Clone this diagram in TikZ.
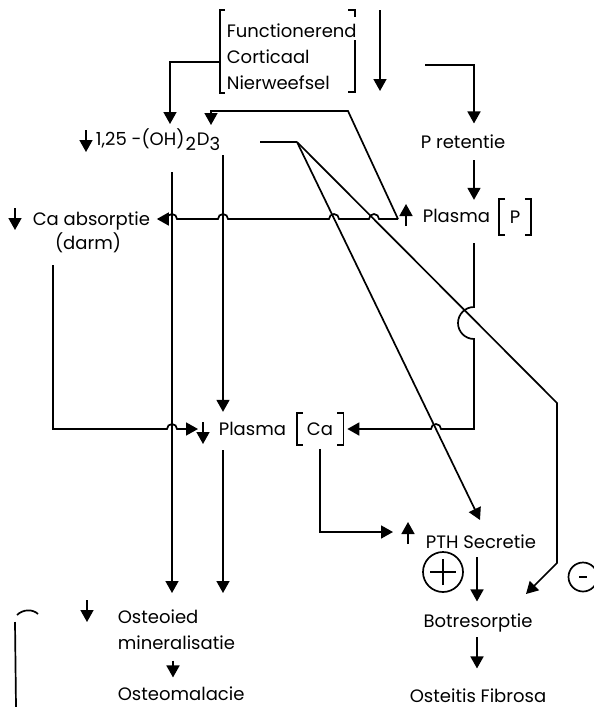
\documentclass[tikz,border=0pt]{standalone}
\usepackage{fontspec}
\setmainfont{Poppins}
\usetikzlibrary{arrows.meta}

\tikzset{
    arr/.style={-{Triangle[length=12pt,width=13pt]}},
    lbl/.style={inner sep=0pt, font=\fontsize{18}{26}\selectfont},
    conc/.style={lbl, minimum height=34pt}
  }
\tikzset{
    pics/dnarrow/.style={
      code={
        \draw[arr] (0,-11) -- (0,11);
      }
    }
  }
\tikzset{
    pics/uparrow/.style={
      code={
        \draw[arr] (0,11) -- (0,-11);
      }
    }
  }

\begin{document}
\begin{tikzpicture}[x=1pt, y=-1pt, line width=1.7pt]
    \useasboundingbox (0,0) rectangle (594,707);

    % teksten
    \node[lbl, align=left, anchor=north west] (nier) at (226,23) {Functionerend\\Corticaal\\Nierweefsel};
    \node[lbl, anchor=base west] (vitd) at (95,145) {1,25 -(OH)\kern1pt\raisebox{-5pt}{2}\kern1pt D\raisebox{-5pt}{3}};
    \node[lbl, anchor=base west] (calc) at (32,225) {Ca absorptie};
    \node[lbl, anchor=base] (darm) at (88,249) {(darm)};
    \node[lbl, anchor=base west] (pret) at (420,148) {P retentie};
    \node[lbl, anchor=base west] (plp) at (422,222) {Plasma};
    \node[conc, minimum width=30pt] (pconc) at (515,217) {P};
    \node[lbl, anchor=base west] (plca) at (218,435) {Plasma};
    \node[conc, minimum width=45pt, minimum height=30pt] (caconc) at (320,429) {Ca};
    \node[lbl, anchor=base west] (pth) at (425,548) {PTH Secretie};
    \node[lbl, anchor=base] (bot) at (478,627) {Botresorptie};
    \node[lbl, anchor=base] (fibr) at (478,702) {Osteitis Fibrosa};
    \node[lbl, align=left, anchor=north west] (osteo) at (117,609) {Osteoied\\mineralisatie};
    \node[lbl, anchor=base west] (malac) at (117,700) {Osteomalacie};
    \node[draw, circle, minimum size=40pt, inner sep=0pt] (plus) at (443,572) {};
    \node[draw, circle, minimum size=29pt, inner sep=0pt] (minus) at (583,577) {};

    % pijltjes voor de teksten
    \draw (86,141) pic{dnarrow};
    \draw (15,219) pic{dnarrow};
    \draw (406,215) pic{uparrow};
    \draw (203,433) pic{dnarrow};
    \draw (408,533) pic{uparrow};
    \draw (87,611) pic{dnarrow};

    % haken
    \draw (225,10) -- (220,10) -- (220,93) -- (225,93);
    \draw (348,10) -- (355,10) -- (355,17);
    \draw (355,40) -- (355,92) -- (348,92);
    \draw ([xshift=6pt]pconc.north west) -- (pconc.north west) -- (pconc.south west) -- ([xshift=6pt]pconc.south west);
    \draw ([xshift=-6pt]pconc.north east) -- (pconc.north east) -- (pconc.south east) -- ([xshift=-6pt]pconc.south east);
    \draw ([xshift=6pt]caconc.north west) -- (caconc.north west) -- (caconc.south west) -- ([xshift=6pt]caconc.south west);
    \draw ([xshift=-6pt]caconc.north east) -- (caconc.north east) -- (caconc.south east) -- ([xshift=-6pt]caconc.south east);
    \draw (17,615) .. controls (23,609) and (33,609) .. (38,614);
    \draw (15,622) -- (16,707);
    \draw ([xshift=-13pt]plus.center) -- ([xshift=13pt]plus.center);
    \draw ([yshift=-13pt]plus.center) -- ([yshift=13pt]plus.center);
    \draw ([xshift=-4pt]minus.center) -- ([xshift=4pt]minus.center);

    % hulppunten
    \coordinate (xa) at (172,0);
    \coordinate (xb) at (223,0);
    \coordinate (xp) at (474,0);
    \coordinate (xt) at (477,0);
    \coordinate (xo) at (173,0);
    \coordinate (nierl) at (219,62);
    \coordinate (nierr) at (425,65);
    \coordinate (vitdin) at (170,124);
    \coordinate (vitdin2) at (211,125);
    \coordinate (vitdr) at (260,142);
    \coordinate (fork) at (297,142);
    \coordinate (pj) at (398,219);
    \coordinate (pthin) at (480,520);
    \coordinate (botin) at (526,594);
    \coordinate (fdown) at (380,10);
    \coordinate (fdownend) at (380,91);

    % verbindingen
    \draw[arr] (nierl) -| (vitdin);
    \draw[arr] (fdown) -- (fdownend);
    \draw[arr, shorten >=10pt] (nierr) -| (pret.north -| xp);
    \draw[arr, shorten <=12pt, shorten >=8pt] (pret.base -| xp) -- (plp.north -| xp);
    \draw[arr, shorten >=6pt] (pj) -- (379,219) arc[start angle=0, end angle=-180, radius=5]
        -- (339,219) arc[start angle=0, end angle=-180, radius=5]
        -- (228,219) arc[start angle=0, end angle=-180, radius=5]
        -- (177,219) arc[start angle=0, end angle=-180, radius=5]
        -- (calc.east |- pj);
    \draw[arr] (pj) -- (348,111) -| (vitdin2);
    \draw (vitdr) -- (fork);
    \draw[arr] (fork) -- (pthin);
    \draw[arr] (fork) -- (557,403) -- (557,563) -- (botin);
    \draw[arr, shorten <=20pt, shorten >=4pt] (plp.south -| xp) -- (474,307)
        arc[start angle=-90, end angle=-270, radius=16] -- (474,429)
        -- (441,429) arc[start angle=0, end angle=-180, radius=5] -- (caconc.east);
    \draw[arr, shorten >=20pt] ([xshift=-35pt, yshift=-16pt]darm.base) |- (167,429)
        arc[start angle=180, end angle=360, radius=5] -- (plca.west |- caconc);
    \draw[arr, shorten <=27pt, shorten >=16pt] (vitd.base -| xa) -- (osteo.north -| xa);
    \draw[arr, shorten <=10pt, shorten >=9pt] (vitd.base -| xb) -- (plca.north -| xb);
    \draw[arr, shorten <=15pt, shorten >=16pt] (plca.base -| xb) -- (osteo.north -| xb);
    \draw[arr, shorten <=4pt] (caconc.south) |- ([xshift=-32pt, yshift=16pt]pth.base west);
    \draw[arr, shorten <=9pt, shorten >=11pt] (pth.base -| xt) -- (bot.north -| xt);
    \draw[arr, shorten <=10pt, shorten >=19pt] (bot.base -| xt) -- (fibr.north -| xt);
    \draw[arr, shorten <=10pt, shorten >=8pt] (osteo.south -| xo) -- (malac.north -| xo);

\end{tikzpicture}
\end{document}
